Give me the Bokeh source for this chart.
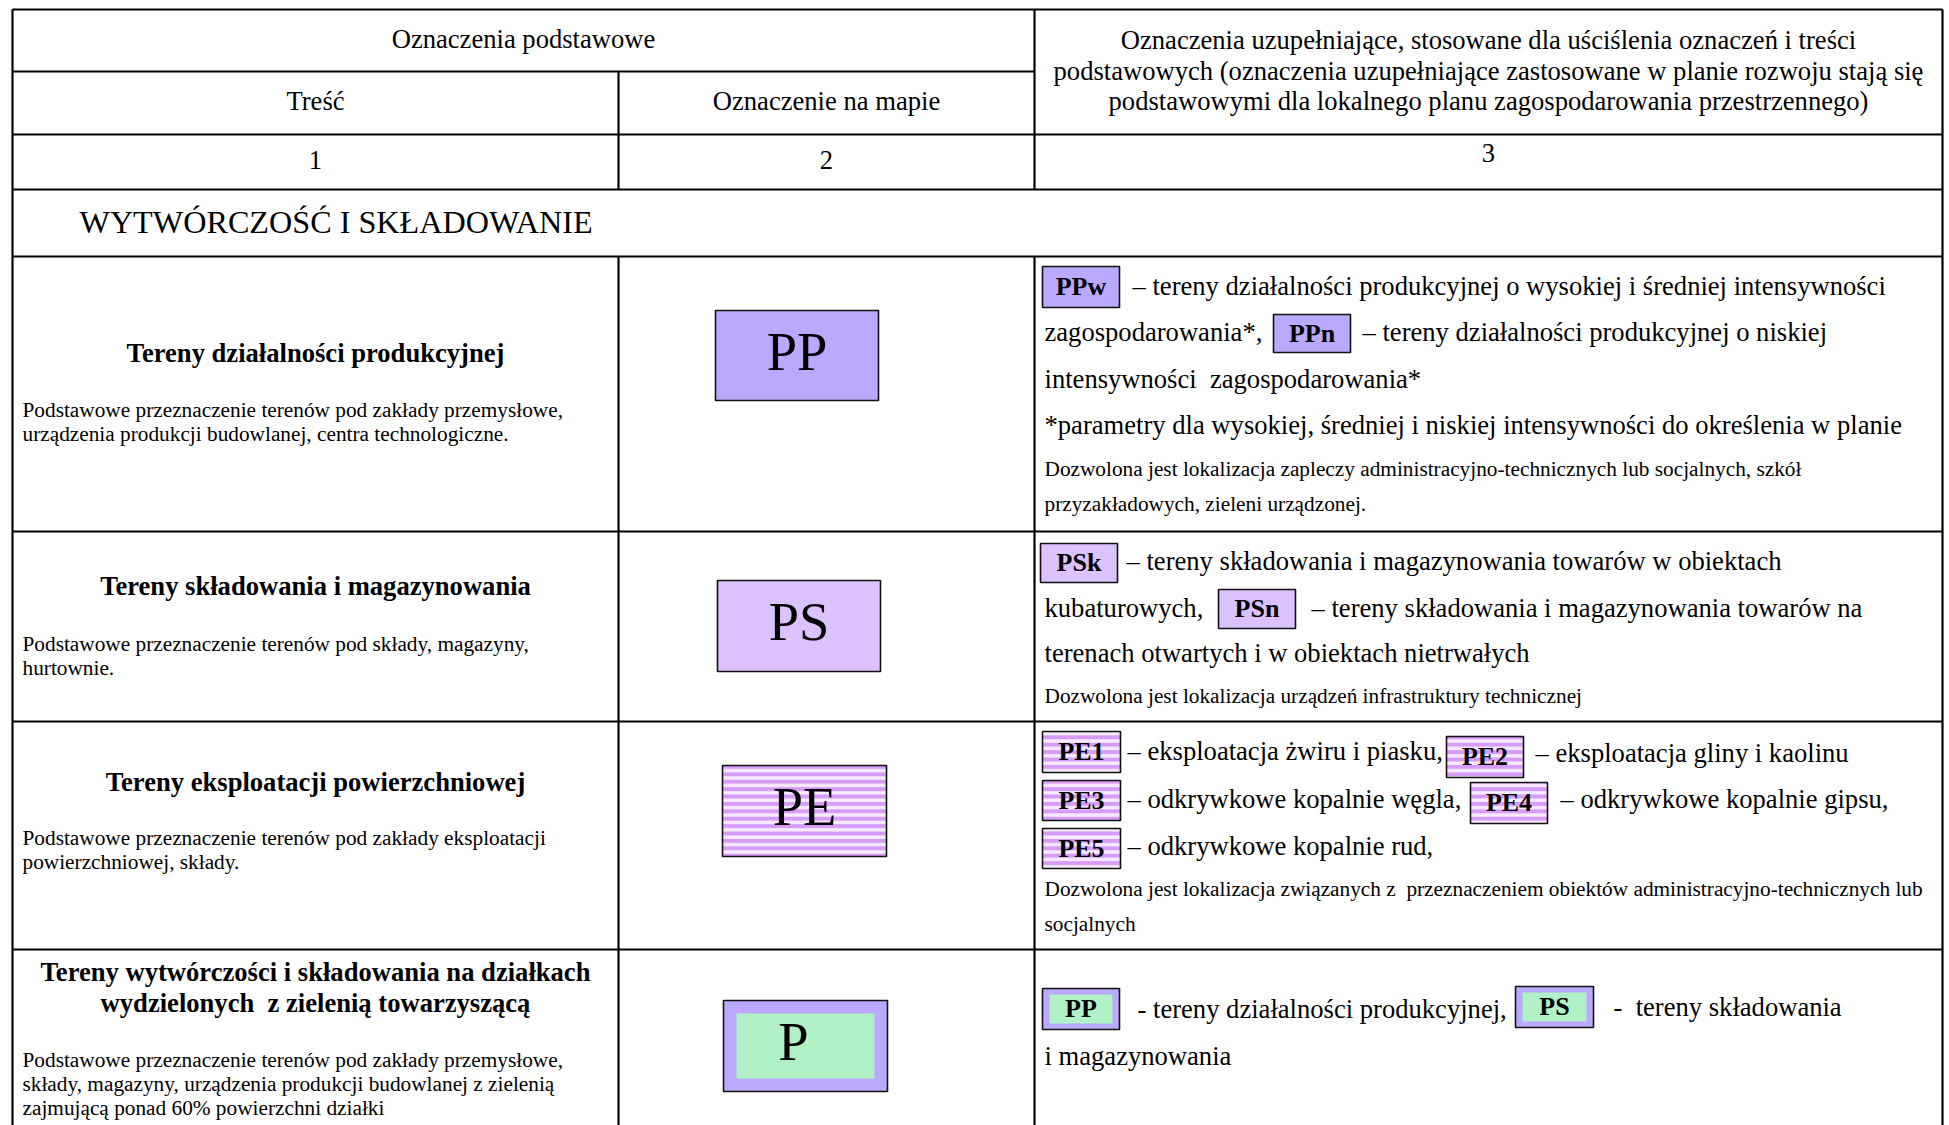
from bokeh.plotting import figure
from bokeh.models import Range1d, ColumnDataSource
from bokeh.core.properties import value
from bokeh.embed import file_html
from bokeh.resources import INLINE

NB = "\u00a0"

# ---------------- content (texts) ----------------
header_main = "Oznaczenia podstawowe"
header_sub = ["Treść", "Oznaczenie na mapie"]
header_col3 = [
    "Oznaczenia uzupełniające, stosowane dla uściślenia oznaczeń i treści",
    "podstawowych (oznaczenia uzupełniające zastosowane w planie rozwoju stają się",
    "podstawowymi dla lokalnego planu zagospodarowania przestrzennego)",
]
col_numbers = ["1", "2", "3"]
section_title = "WYTWÓRCZOŚĆ I SKŁADOWANIE"

row_titles = [
    ["Tereny działalności produkcyjnej"],
    ["Tereny składowania i magazynowania"],
    ["Tereny eksploatacji powierzchniowej"],
    ["Tereny wytwórczości i składowania na działkach",
     "wydzielonych " + NB + "z zielenią towarzyszącą"],
]
row_descriptions = [
    ["Podstawowe przeznaczenie terenów pod zakłady przemysłowe,",
     "urządzenia produkcji budowlanej, centra technologiczne."],
    ["Podstawowe przeznaczenie terenów pod składy, magazyny,",
     "hurtownie."],
    ["Podstawowe przeznaczenie terenów pod zakłady eksploatacji",
     "powierzchniowej, składy."],
    ["Podstawowe przeznaczenie terenów pod zakłady przemysłowe,",
     "składy, magazyny, urządzenia produkcji budowlanej z zielenią",
     "zajmującą ponad 60% powierzchni działki"],
]
map_symbols = ["PP", "PS", "PE", "P"]
symbol_styles = ["PP", "PS", "PE", "P"]

# column 3: (kind, label/text, style or size)
col3_items = [
    [("box", "PPw", "PP"), ("text", "– tereny działalności produkcyjnej o wysokiej i średniej intensywności", "main"),
     ("text", "zagospodarowania*,", "main"), ("box", "PPn", "PP"),
     ("text", "– tereny działalności produkcyjnej o niskiej", "main"),
     ("text", "intensywności " + NB + "zagospodarowania*", "main"),
     ("text", "*parametry dla wysokiej, średniej i niskiej intensywności do określenia w planie", "main"),
     ("text", "Dozwolona jest lokalizacja zapleczy administracyjno-technicznych lub socjalnych, szkół", "small"),
     ("text", "przyzakładowych, zieleni urządzonej.", "small")],
    [("box", "PSk", "PS"), ("text", "– tereny składowania i magazynowania towarów w obiektach", "main"),
     ("text", "kubaturowych,", "main"), ("box", "PSn", "PS"),
     ("text", "– tereny składowania i magazynowania towarów na", "main"),
     ("text", "terenach otwartych i w obiektach nietrwałych", "main"),
     ("text", "Dozwolona jest lokalizacja urządzeń infrastruktury technicznej", "small")],
    [("box", "PE1", "PE"), ("text", "– eksploatacja żwiru i piasku,", "main"),
     ("box", "PE2", "PE"), ("text", "– eksploatacja gliny i kaolinu", "main"),
     ("box", "PE3", "PE"), ("text", "– odkrywkowe kopalnie węgla,", "main"),
     ("box", "PE4", "PE"), ("text", "– odkrywkowe kopalnie gipsu,", "main"),
     ("box", "PE5", "PE"), ("text", "– odkrywkowe kopalnie rud,", "main"),
     ("text", "Dozwolona jest lokalizacja związanych z " + NB + "przeznaczeniem obiektów administracyjno-technicznych lub", "small"),
     ("text", "socjalnych", "small")],
    [("box", "PP", "P"), ("text", "- tereny działalności produkcyjnej,", "main"),
     ("box", "PS", "P"), ("text", "- " + NB + "tereny składowania", "main"),
     ("text", "i magazynowania", "main")],
]

# ---------------- layout (page pixels) ----------------
W, H = 1949, 1125
X_L, X_C1, X_C2, X_R = 12, 618, 1034, 1942
Y_LINES = [9, 71, 134, 189, 256, 531, 721, 949]
Y_BOTTOM = H
DY = -1.5  # text vertical nudge

col3_pos = [
    [(1042, 266, 1119, 307), (1132, 287), (1044, 333), (1273, 314, 1350, 352), (1362, 333),
     (1044, 380), (1044, 426), (1044, 470), (1044, 505)],
    [(1040, 543, 1117, 582), (1126, 562), (1044, 609), (1218, 589, 1295, 628), (1311, 609),
     (1044, 654), (1044, 697)],
    [(1042, 731, 1120, 772), (1127, 752), (1446, 736, 1523, 777), (1535, 754),
     (1042, 780, 1120, 820), (1127, 800), (1470, 782, 1547, 823), (1560, 800),
     (1042, 828, 1120, 868), (1127, 847), (1044, 890), (1044, 925)],
    [(1042, 988, 1119, 1029), (1137, 1010), (1515, 986, 1593, 1027), (1613, 1008), (1044, 1057)],
]
symbol_boxes = [(715, 310, 878, 400), (717, 580, 880, 671), (722, 765, 886, 856), (723, 1000, 887, 1091)]
symbol_text_dx = [0, 0, 0, -12]
symbol_text_dy = -3
title_y = [[354], [587], [783], [973, 1004]]
desc_y = [[411, 435], [645, 669], [839, 863], [1061, 1085, 1109]]

FILL = {"PP": "#bba8ff", "PS": "#dcc2ff", "PE": "#f6ecfd", "P": "#bba8ff"}
GREEN = "#b0f2c6"
STRIPE = "#d69cf7"
FONT = value("Liberation Serif")
SIZES = {"head": "26.6px", "main": "26.6px", "small": "21.3px", "desc": "21.3px",
         "title": "26.6px", "section": "32.2px", "big": "54.5px", "label": "26px"}

p = figure(width=W, height=H, output_backend="svg", toolbar_location=None,
           x_range=Range1d(0, W), y_range=Range1d(H, 0),
           min_border=0, outline_line_color=None)
p.axis.visible = False
p.grid.visible = False
p.background_fill_color = "white"
p.border_fill_color = "white"

# ---- table lines ----
xs0, ys0, xs1, ys1 = [], [], [], []
def seg(a, b, c, d):
    xs0.append(a); ys0.append(b); xs1.append(c); ys1.append(d)

for i, y in enumerate(Y_LINES):
    if i == 1:
        seg(X_L, y, X_C2, y)
    else:
        seg(X_L, y, X_R, y)
seg(X_L, Y_LINES[0], X_L, Y_BOTTOM)
seg(X_R, Y_LINES[0], X_R, Y_BOTTOM)
seg(X_C1, Y_LINES[1], X_C1, Y_LINES[3])
seg(X_C1, Y_LINES[4], X_C1, Y_BOTTOM)
seg(X_C2, Y_LINES[0], X_C2, Y_LINES[3])
seg(X_C2, Y_LINES[4], X_C2, Y_BOTTOM)
p.segment(x0=xs0, y0=ys0, x1=xs1, y1=ys1, line_color="black", line_width=2.2)

# ---- boxes ----
def draw_box(x0, y0, x1, y1, style, inset):
    if style == "PE":
        p.quad(left=[x0], right=[x1], top=[y0], bottom=[y1], fill_color=FILL["PE"],
               hatch_pattern="horizontal_line", hatch_color=STRIPE,
               hatch_scale=7.4, hatch_weight=4, line_color="#111111", line_width=1.6)
    else:
        p.quad(left=[x0], right=[x1], top=[y0], bottom=[y1], fill_color=FILL[style],
               line_color="#111111", line_width=1.6)
        if style == "P":
            p.quad(left=[x0 + inset[0]], right=[x1 - inset[0]], top=[y0 + inset[1]],
                   bottom=[y1 - inset[1]], fill_color=GREEN, line_color=None)

texts = {k: dict(x=[], y=[], text=[]) for k in
         ["head_c", "num_c", "section_l", "title_c", "desc_l", "main_l", "small_l", "big_c", "label_c"]}
def add(key, x, y, t):
    texts[key]["x"].append(x); texts[key]["y"].append(y + DY); texts[key]["text"].append(t)

# header
add("head_c", (X_L + X_C2) / 2, 40, header_main)
add("head_c", (X_L + X_C1) / 2, 102, header_sub[0])
add("head_c", (X_C1 + X_C2) / 2, 102, header_sub[1])
for t, y in zip(header_col3, [41, 72, 102]):
    add("head_c", (X_C2 + X_R) / 2, y, t)
add("num_c", (X_L + X_C1) / 2, 161, col_numbers[0])
add("num_c", (X_C1 + X_C2) / 2, 161, col_numbers[1])
add("num_c", (X_C2 + X_R) / 2, 154, col_numbers[2])
add("section_l", 79, 223, section_title)

for r in range(4):
    for t, y in zip(row_titles[r], title_y[r]):
        add("title_c", (X_L + X_C1) / 2, y, t)
    for t, y in zip(row_descriptions[r], desc_y[r]):
        add("desc_l", 22, y, t)
    bx = symbol_boxes[r]
    draw_box(*bx, symbol_styles[r], (13, 13))
    add("big_c", (bx[0] + bx[2]) / 2 + symbol_text_dx[r], (bx[1] + bx[3]) / 2 + symbol_text_dy,
        map_symbols[r])
    for item, pos in zip(col3_items[r], col3_pos[r]):
        kind, t, st = item
        if kind == "box":
            draw_box(*pos, st, (7, 6))
            add("label_c", (pos[0] + pos[2]) / 2, (pos[1] + pos[3]) / 2 + 1, t)
        elif st == "main":
            add("main_l", pos[0], pos[1], t)
        else:
            add("small_l", pos[0], pos[1], t)

def draw_text(key, size, align, bold=False):
    d = texts[key]
    if not d["x"]:
        return
    p.text(x="x", y="y", text="text", source=ColumnDataSource(d), text_font=FONT,
           text_font_size=value(size), text_align=align, text_baseline="middle",
           text_color="black", text_font_style="bold" if bold else "normal")

draw_text("head_c", SIZES["head"], "center")
draw_text("num_c", SIZES["head"], "center")
draw_text("section_l", SIZES["section"], "left")
draw_text("title_c", SIZES["title"], "center", bold=True)
draw_text("desc_l", SIZES["desc"], "left")
draw_text("main_l", SIZES["main"], "left")
draw_text("small_l", SIZES["small"], "left")
draw_text("big_c", SIZES["big"], "center")
draw_text("label_c", SIZES["label"], "center", bold=True)

open("out.html", "w").write(file_html(p, INLINE))
